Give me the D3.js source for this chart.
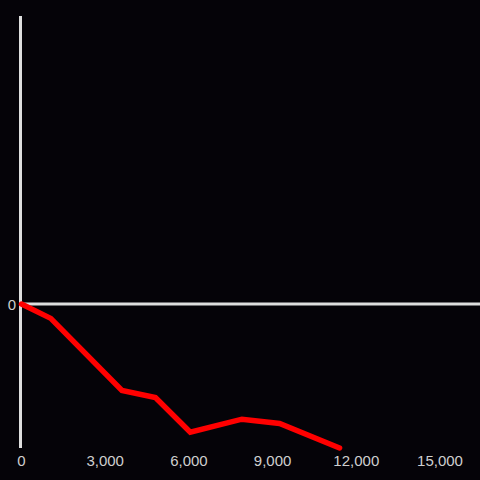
<!DOCTYPE html>
<html>
<head>
<meta charset="utf-8">
<script src="https://d3js.org/d3.v7.min.js"></script>
<style>
  body { margin: 0; background: #050308; }
  svg { display: block; }
  text { font-family: "Liberation Sans", Arial, sans-serif; }
</style>
</head>
<body>
<div id="chart"></div>
<script>
  // values (y in arbitrary units, axis is -100 .. 200)
  const xValues = [0, 1050, 3600, 4800, 6050, 7900, 9250, 11400];
  const yValues = [0, -10, -60, -65, -89, -80, -83, -100];
  const xTicks = [0, 3000, 6000, 9000, 12000, 15000];

  const width = 480, height = 480;
  const x = d3.scaleLinear().domain([0, 15000]).range([21.5, 440]);
  const y = d3.scaleLinear().domain([-100, 200]).range([448, 16]);

  const svg = d3.select("#chart").append("svg")
    .attr("width", width)
    .attr("height", height);

  svg.append("rect").attr("width", width).attr("height", height).attr("fill", "#050308");

  // axes lines
  svg.append("line")
    .attr("x1", 20.5).attr("x2", 20.5)
    .attr("y1", y(200)).attr("y2", y(-100))
    .attr("stroke", "#dedede").attr("stroke-width", 3);
  svg.append("line")
    .attr("x1", 20.5).attr("x2", width)
    .attr("y1", y(0)).attr("y2", y(0))
    .attr("stroke", "#dedede").attr("stroke-width", 3);

  // tick labels
  svg.selectAll(".xt")
    .data(xTicks)
    .enter().append("text")
    .attr("class", "xt")
    .attr("x", d => x(d))
    .attr("y", 466)
    .attr("text-anchor", "middle")
    .attr("fill", "#cfcfcf")
    .attr("font-size", 15)
    .text(d3.format(","));

  svg.append("text")
    .attr("x", 16).attr("y", y(0) + 5.5)
    .attr("text-anchor", "end")
    .attr("fill", "#cfcfcf")
    .attr("font-size", 15)
    .text("0");

  // the line
  const pts = xValues.map((v, i) => [v, yValues[i]]);
  svg.append("path")
    .datum(pts)
    .attr("fill", "none")
    .attr("stroke", "#ff0000")
    .attr("stroke-width", 5.5)
    .attr("stroke-linecap", "round")
    .attr("stroke-linejoin", "miter")
    .attr("d", d3.line().x(d => x(d[0])).y(d => y(d[1])));
</script>
</body>
</html>
